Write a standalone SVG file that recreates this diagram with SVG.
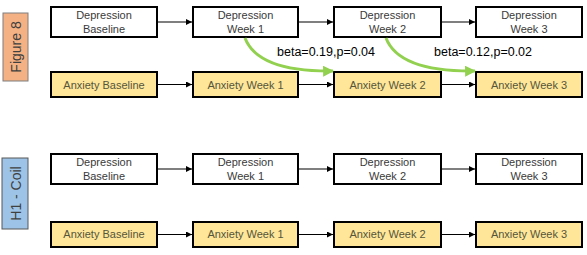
<svg xmlns="http://www.w3.org/2000/svg" width="587" height="255" viewBox="0 0 587 255">
<defs>
<style>
.dep{fill:#ffffff;stroke:#000000;stroke-width:2}
.anx{fill:#ffe699;stroke:#000000;stroke-width:2}
.t{font-family:"Liberation Sans",Arial,sans-serif;font-size:11px;text-anchor:middle;fill:#3a3a3a}
.ta{font-family:"Liberation Sans",Arial,sans-serif;font-size:11px;text-anchor:middle;fill:#55553a}
.lbl{font-family:"Liberation Sans",Arial,sans-serif;font-size:14px;text-anchor:middle;fill:#404040}
.beta{font-family:"Liberation Sans",Arial,sans-serif;font-size:12.5px;fill:#000000}
.c{stroke:#000000;stroke-width:1.2;fill:none;marker-end:url(#ah)}
.g{stroke:#92d050;stroke-width:3;fill:none;marker-end:url(#gh)}
</style>
<marker id="ah" viewBox="0 0 10 10" refX="10" refY="5" markerWidth="6" markerHeight="6" markerUnits="userSpaceOnUse" orient="auto"><path d="M0,0 L10,5 L0,10 z" fill="#000000"/></marker>
<marker id="gh" viewBox="0 0 10 10" refX="9" refY="5" markerWidth="11" markerHeight="11" markerUnits="userSpaceOnUse" orient="auto"><path d="M0,0 L10,5 L0,10 z" fill="#92d050"/></marker>
</defs>

<g id="label-figure8">
<rect x="3" y="13" width="25" height="68" fill="#f4b183" stroke="#7f7f7f" stroke-width="1"/>
<text class="lbl" transform="translate(20.5,47) rotate(-90)">Figure 8</text>
</g>
<g id="label-h1coil">
<rect x="2" y="158" width="26" height="71" fill="#9dc3e6" stroke="#595959" stroke-width="1"/>
<text class="lbl" transform="translate(20.5,193.5) rotate(-90)">H1 - Coil</text>
</g>

<g id="f8-dep-base"><rect class="dep" x="51" y="7" width="106" height="30"/><text class="t" x="104" y="19">Depression</text><text class="t" x="104" y="33">Baseline</text></g>
<g id="f8-dep-w1"><rect class="dep" x="193" y="7" width="105" height="30"/><text class="t" x="245.5" y="19">Depression</text><text class="t" x="245.5" y="33">Week 1</text></g>
<g id="f8-dep-w2"><rect class="dep" x="334" y="7" width="107" height="30"/><text class="t" x="387.5" y="19">Depression</text><text class="t" x="387.5" y="33">Week 2</text></g>
<g id="f8-dep-w3"><rect class="dep" x="476" y="7" width="106" height="30"/><text class="t" x="529" y="19">Depression</text><text class="t" x="529" y="33">Week 3</text></g>

<g id="f8-anx-base"><rect class="anx" x="51" y="72" width="106" height="25"/><text class="ta" x="104" y="89">Anxiety Baseline</text></g>
<g id="f8-anx-w1"><rect class="anx" x="193" y="72" width="105" height="25"/><text class="ta" x="245.5" y="89">Anxiety Week 1</text></g>
<g id="f8-anx-w2"><rect class="anx" x="334" y="72" width="107" height="25"/><text class="ta" x="387.5" y="89">Anxiety Week 2</text></g>
<g id="f8-anx-w3"><rect class="anx" x="476" y="72" width="106" height="25"/><text class="ta" x="529" y="89">Anxiety Week 3</text></g>

<g id="h1-dep-base"><rect class="dep" x="51" y="154" width="106" height="30"/><text class="t" x="104" y="166">Depression</text><text class="t" x="104" y="180">Baseline</text></g>
<g id="h1-dep-w1"><rect class="dep" x="193" y="154" width="105" height="30"/><text class="t" x="245.5" y="166">Depression</text><text class="t" x="245.5" y="180">Week 1</text></g>
<g id="h1-dep-w2"><rect class="dep" x="334" y="154" width="107" height="30"/><text class="t" x="387.5" y="166">Depression</text><text class="t" x="387.5" y="180">Week 2</text></g>
<g id="h1-dep-w3"><rect class="dep" x="476" y="154" width="106" height="30"/><text class="t" x="529" y="166">Depression</text><text class="t" x="529" y="180">Week 3</text></g>

<g id="h1-anx-base"><rect class="anx" x="51" y="222" width="106" height="25"/><text class="ta" x="104" y="238">Anxiety Baseline</text></g>
<g id="h1-anx-w1"><rect class="anx" x="193" y="222" width="105" height="25"/><text class="ta" x="245.5" y="238">Anxiety Week 1</text></g>
<g id="h1-anx-w2"><rect class="anx" x="334" y="222" width="107" height="25"/><text class="ta" x="387.5" y="238">Anxiety Week 2</text></g>
<g id="h1-anx-w3"><rect class="anx" x="476" y="222" width="106" height="25"/><text class="ta" x="529" y="238">Anxiety Week 3</text></g>

<g id="connectors">
<line class="c" x1="157" y1="22" x2="192" y2="22"/>
<line class="c" x1="298" y1="22" x2="333" y2="22"/>
<line class="c" x1="441" y1="22" x2="475" y2="22"/>
<line class="c" x1="157" y1="84.5" x2="192" y2="84.5"/>
<line class="c" x1="298" y1="84.5" x2="333" y2="84.5"/>
<line class="c" x1="441" y1="84.5" x2="475" y2="84.5"/>
<line class="c" x1="157" y1="169" x2="192" y2="169"/>
<line class="c" x1="298" y1="169" x2="333" y2="169"/>
<line class="c" x1="441" y1="169" x2="475" y2="169"/>
<line class="c" x1="157" y1="234.5" x2="192" y2="234.5"/>
<line class="c" x1="298" y1="234.5" x2="333" y2="234.5"/>
<line class="c" x1="441" y1="234.5" x2="475" y2="234.5"/>
<path class="g" d="M245,38 Q258,72 333,71"/>
<path class="g" d="M386,38 Q399,72 475,71"/>
<text class="beta" x="277" y="56">beta=0.19,p=0.04</text>
<text class="beta" x="434" y="56">beta=0.12,p=0.02</text>
</g>
</svg>
